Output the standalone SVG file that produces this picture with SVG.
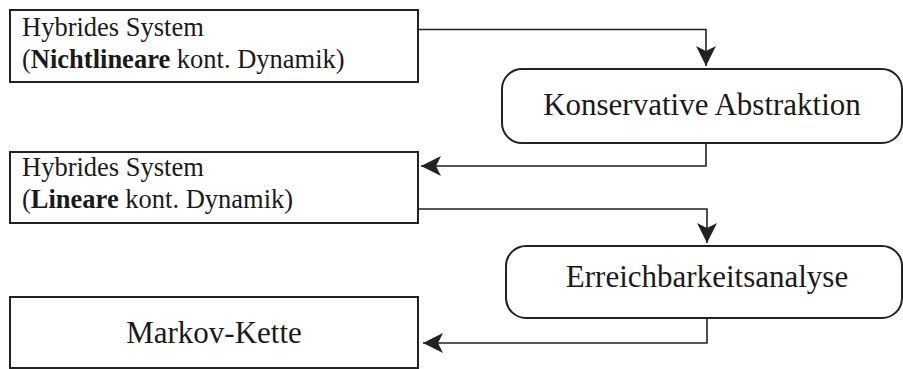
<svg xmlns="http://www.w3.org/2000/svg" width="903" height="369" viewBox="0 0 903 369">
<style>
.box{fill:#fff;stroke:#222;stroke-width:2}
.t{font-family:"Liberation Serif","Times New Roman",serif;fill:#1a1a1a}
.s{font-size:26.5px}
.l{font-size:31px}
.c{fill:none;stroke:#222;stroke-width:1.6}
</style>
<defs>
<marker id="ah" viewBox="0 0 20 20" refX="20" refY="10" markerWidth="20" markerHeight="20" markerUnits="userSpaceOnUse" orient="auto">
<path d="M0,0 L20,10 L0,20 L5,10 Z" fill="#222"/>
</marker>
</defs>
<rect width="903" height="369" fill="#fff"/>
<g id="connectors">
<path class="c" d="M418,29.5 H706 V66" marker-end="url(#ah)"/>
<path class="c" d="M706,143 V166 H421" marker-end="url(#ah)"/>
<path class="c" d="M418,209 H707 V243" marker-end="url(#ah)"/>
<path class="c" d="M707,318 V343 H423" marker-end="url(#ah)"/>
</g>
<g id="n1">
<rect class="box" x="10" y="10" width="408" height="72"/>
<text class="t s" x="22" y="36">Hybrides System</text>
<text class="t s" x="22" y="68">(<tspan font-weight="bold">Nichtlineare</tspan> kont. Dynamik)</text>
</g>
<g id="n2">
<rect class="box" x="502" y="69" width="400" height="74" rx="20" ry="20"/>
<text class="t l" x="702" y="115" text-anchor="middle">Konservative Abstraktion</text>
</g>
<g id="n3">
<rect class="box" x="10" y="152" width="408" height="71"/>
<text class="t s" x="22" y="176">Hybrides System</text>
<text class="t s" x="22" y="208">(<tspan font-weight="bold">Lineare</tspan> kont. Dynamik)</text>
</g>
<g id="n4">
<rect class="box" x="506" y="246" width="396" height="72" rx="20" ry="20"/>
<text class="t l" x="707" y="287" text-anchor="middle">Erreichbarkeitsanalyse</text>
</g>
<g id="n5">
<rect class="box" x="10" y="297" width="408" height="71"/>
<text class="t l" x="214" y="343" text-anchor="middle">Markov-Kette</text>
</g>
</svg>
